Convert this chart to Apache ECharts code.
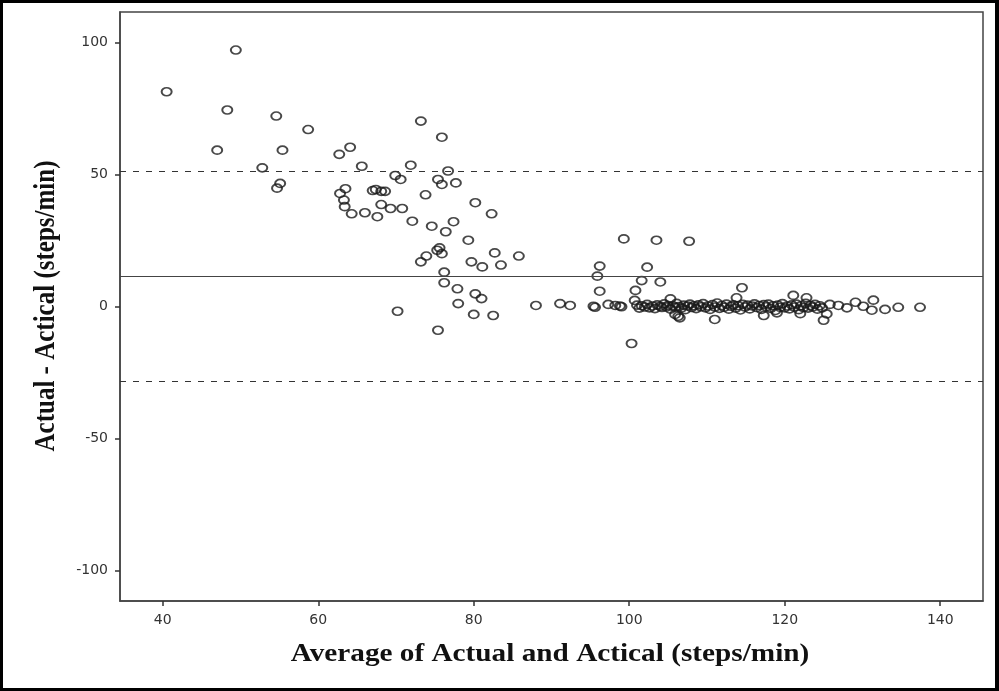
<!DOCTYPE html>
<html>
<head>
<meta charset="utf-8">
<script src="https://cdn.jsdelivr.net/npm/echarts@6/dist/echarts.min.js"></script>
<style>
  html, body { margin: 0; padding: 0; background: #fff; }
  #frame { width: 999px; height: 691px; box-sizing: border-box; border: 3px solid #000; border-right-width: 4px; position: relative; }
  #chart { position: absolute; left: -3px; top: -3px; width: 999px; height: 691px; }
</style>
</head>
<body>
<div id="frame"><div id="chart"></div></div>
<script>
// average of the two counts (x) and their difference (y)
const avgValues = [
  40.5, 49.4, 48.3, 54.6, 58.7, 47.0, 55.4, 62.7, 52.8, 55.1, 54.7, 64.1,
  73.2, 75.9, 65.6, 71.9, 76.7, 69.9, 70.6, 75.4, 75.9, 77.7, 63.5, 62.8,
  63.3, 63.4, 64.3, 66.0, 67.6, 67.0, 67.4, 68.1, 68.6, 68.1, 69.3, 70.8,
  73.8, 72.1, 74.6, 77.4, 76.4, 80.2, 82.3, 79.3, 75.6, 75.3, 75.9, 73.9,
  73.2, 79.7, 81.1, 82.7, 83.5, 85.8, 76.2, 76.2, 77.9, 80.2, 81.0, 78.0,
  80.0, 82.5, 88.0, 70.2, 75.4, 91.1, 92.4, 99.3, 103.5, 107.7, 96.2, 95.9,
  102.3, 101.6, 104.0, 96.2, 100.8, 100.7, 95.4, 95.6, 97.3, 98.2, 98.8, 99.0,
  100.3, 105.9, 106.5, 111.0, 105.3, 114.5, 113.8, 121.1, 122.8, 117.3, 119.0, 122.0,
  125.0, 125.4, 125.8, 126.9, 128.0, 129.1, 130.1, 131.4, 131.2, 132.9, 134.6, 137.4,
  106.3,
  101.0, 101.3, 101.6, 102.0, 102.3, 102.6, 103.0, 103.3, 103.6, 104.0, 104.2, 104.5,
  104.8, 105.0, 105.3, 105.6, 105.9, 106.1, 106.4, 106.7, 107.0, 107.2, 107.5, 107.8,
  108.0, 108.3, 108.6, 108.9, 109.2, 109.5, 109.8, 110.1, 110.4, 110.7, 111.0, 111.3,
  111.6, 111.9, 112.2, 112.5, 112.8, 113.1, 113.4, 113.7, 114.0, 114.3, 114.6, 114.9,
  115.2, 115.5, 115.8, 116.1, 116.4, 116.7, 117.0, 117.3, 117.6, 117.9, 118.2, 118.5,
  118.8, 119.1, 119.4, 119.7, 120.0, 120.3, 120.6, 120.9, 121.2, 121.5, 121.8, 122.1,
  122.4, 122.7, 123.0, 123.3, 123.6, 123.9, 124.2, 124.5, 124.8
];
const diffValues = [
  81.3, 97.1, 74.4, 72.1, 67.0, 59.2, 59.2, 57.6, 52.5, 46.6, 44.8, 60.3,
  70.2, 64.1, 53.1, 53.5, 51.3, 49.6, 48.1, 48.1, 46.2, 46.8, 44.6, 42.8,
  40.3, 37.8, 35.1, 35.5, 34.0, 43.9, 44.3, 43.6, 43.6, 38.6, 37.1, 37.1,
  42.3, 32.3, 30.4, 32.1, 28.3, 39.3, 35.1, 25.1, 22.2, 21.3, 20.0, 19.1,
  16.9, 16.9, 15.0, 20.3, 15.7, 19.1, 13.0, 9.0, 6.7, 4.8, 3.0, 1.1,
  -3.0, -3.4, 0.4, -1.8, -9.0, 1.1, 0.4, 25.6, 25.1, 24.7, 15.3, 11.5,
  14.9, 9.8, 9.3, 5.8, 6.1, 2.3, 0.1, -0.3, 0.8, 0.4, 0.2, -0.1,
  -14.0, -3.0, -4.3, -4.9, 2.9, 7.1, 3.3, 4.2, 3.3, -3.4, -2.4, -2.7,
  -5.2, -2.8, 0.8, 0.4, -0.5, 1.6, 0.1, 2.4, -1.4, -1.1, -0.3, -0.3,
  -3.7,
  0.5, -0.6, 0.3, -0.2, 0.8, -0.5, 0.2, -0.8, 0.6, 0.1, -0.4, 1.0,
  -0.2, 0.4, -1.0, 0.3, -0.3, 1.2, 0.0, -0.6, 0.5, -1.2, 0.2, 0.9,
  -0.4, 0.3, -0.8, 0.6, -0.1, 1.1, -0.5, 0.2, -1.1, 0.7, -0.2, 1.3,
  -0.7, 0.4, -0.3, 0.9, -1.0, 0.1, 0.6, -0.6, 0.3, -1.3, 0.8, -0.2,
  0.5, -0.9, 0.2, 1.0, -0.4, 0.4, -1.1, 0.7, -0.1, 0.9, -0.7, 0.3,
  -1.5, 0.5, -0.3, 1.1, -0.5, 0.2, -0.9, 0.6, -0.2, 0.9, -1.2, 0.3,
  -0.4, 1.2, -0.6, 0.4, -0.2, 0.8, -1.0, 0.3, -0.5
];
const meanDiff = 11.4;
const upperLimit = 51.2;
const lowerLimit = -28.4;
const xTicks = [40, 60, 80, 100, 120, 140];
const yTicks = [-100, -50, 0, 50, 100];
const xTitle = 'Average of Actual and Actical (steps/min)';
const yTitle = 'Actual - Actical (steps/min)';

const points = avgValues.map((x, i) => [x, diffValues[i]]);

const chart = echarts.init(document.getElementById('chart'));
const axisCommon = {
  type: 'value',
  splitLine: {show: false},
  axisLine: {show: true, onZero: false, lineStyle: {color: '#444', width: 1.5}},
  axisTick: {show: true, length: 5, lineStyle: {color: '#333', width: 1.5}},
  axisLabel: {color: '#333', fontFamily: 'DejaVu Sans', fontSize: 14}
};
// the titles look horizontally stretched in the original, hence scale on graphic text
const titleStyle = {fontFamily: 'Liberation Serif', fontWeight: 'bold', fontSize: 25, fill: '#111'};
chart.setOption({
  animation: false,
  grid: {left: 120, top: 12, right: 16, bottom: 90, show: true, borderColor: '#444', borderWidth: 1.5},
  xAxis: {
    ...axisCommon,
    min: 34.5, max: 145.5,
    axisTick: {...axisCommon.axisTick, customValues: xTicks},
    axisLabel: {...axisCommon.axisLabel, margin: 12, customValues: xTicks}
  },
  yAxis: {
    ...axisCommon,
    min: -111.5, max: 111.5,
    axisTick: {...axisCommon.axisTick, customValues: yTicks},
    axisLabel: {...axisCommon.axisLabel, margin: 12, customValues: yTicks}
  },
  graphic: [
    {type: 'text', x: 550, y: 655, scaleX: 1.17, silent: true,
      style: {...titleStyle, text: xTitle, align: 'center', verticalAlign: 'middle'}},
    {type: 'text', x: 46, y: 306, rotation: Math.PI / 2, scaleY: 1.17, silent: true,
      style: {...titleStyle, text: yTitle, align: 'center', verticalAlign: 'middle'}}
  ],
  series: [{
    type: 'scatter',
    data: points,
    symbol: 'circle',
    symbolSize: [10, 8],
    itemStyle: {color: 'rgba(0,0,0,0)', borderColor: '#1a1a1a', borderWidth: 1.8},
    emphasis: {disabled: true},
    markLine: {
      silent: true,
      symbol: 'none',
      label: {show: false},
      data: [
        {yAxis: meanDiff, lineStyle: {type: 'solid', color: '#444', width: 1.2}},
        {yAxis: upperLimit, lineStyle: {type: [6, 7], color: '#333', width: 1.2}},
        {yAxis: lowerLimit, lineStyle: {type: [6, 7], color: '#333', width: 1.2}}
      ]
    }
  }]
});
</script>
</body>
</html>
